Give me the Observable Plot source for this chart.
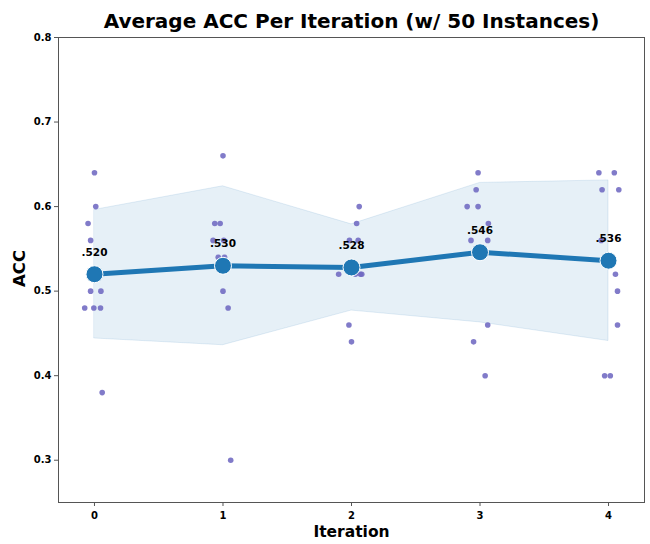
<!DOCTYPE html>
<html>
<head>
<meta charset="utf-8">
<script src="https://cdn.jsdelivr.net/npm/d3@7"></script>
<script src="https://cdn.jsdelivr.net/npm/@observablehq/plot@0.6"></script>
<style>
  html, body { margin: 0; padding: 0; background: #fff; }
  svg { font-family: "DejaVu Sans", sans-serif; }
</style>
</head>
<body>
<div id="chart"></div>
<script>
const iterations = [0, 1, 2, 3, 4];
const meanAcc = [0.520, 0.530, 0.528, 0.546, 0.536];
const meanLabels = [".520", ".530", ".528", ".546", ".536"];
const ciLow = [0.444, 0.436, 0.477, 0.463, 0.441];
const ciHigh = [0.596, 0.624, 0.579, 0.628, 0.631];

// individual instances per iteration (values and horizontal jitter)
const pointIter = [
  0,0,0,0,0,0,0,0,0,0,
  1,1,1,1,1,1,1,1,1,1,
  2,2,2,2,2,2,2,2,2,2,
  3,3,3,3,3,3,3,3,3,3,
  4,4,4,4,4,4,4,4,4,4
];
const pointAcc = [
  0.64,0.60,0.58,0.56,0.50,0.50,0.48,0.48,0.48,0.38,
  0.66,0.58,0.58,0.56,0.56,0.54,0.54,0.50,0.48,0.30,
  0.60,0.58,0.56,0.56,0.52,0.52,0.52,0.52,0.46,0.44,
  0.64,0.62,0.60,0.60,0.58,0.56,0.56,0.46,0.44,0.40,
  0.64,0.64,0.62,0.62,0.56,0.52,0.50,0.46,0.40,0.40
];
const pointJitter = [
  0.00,0.01,-0.05,-0.03,-0.03,0.05,-0.076,-0.005,0.047,0.06,
  0.00,-0.064,-0.022,-0.077,0.006,-0.037,0.012,0.00,0.04,0.06,
  0.06,0.04,-0.016,0.052,-0.10,0.03,0.07,0.08,-0.02,0.00,
  -0.015,-0.03,-0.10,-0.015,0.065,-0.07,0.06,0.06,-0.05,0.04,
  -0.075,0.045,-0.05,0.08,-0.057,0.054,0.07,0.07,-0.03,0.014
];

const yTicks = [0.3, 0.4, 0.5, 0.6, 0.7, 0.8];
const xTicks = [0, 1, 2, 3, 4];

const means = iterations.map((it, i) => ({it, acc: meanAcc[i], label: meanLabels[i], lo: ciLow[i], hi: ciHigh[i]}));
const points = pointIter.map((it, i) => ({x: it + pointJitter[i], acc: pointAcc[i]}));

const chart = Plot.plot({
  width: 650,
  height: 544,
  marginLeft: 58,
  marginRight: 6,
  marginTop: 37,
  marginBottom: 42,
  style: {fontFamily: "DejaVu Sans, sans-serif", background: "#fff"},
  x: {domain: [-0.28, 4.28], ticks: xTicks, tickFormat: d3.format("d"), label: null},
  y: {domain: [0.25, 0.8], ticks: yTicks, tickFormat: d3.format(".1f"), label: null},
  marks: [
    Plot.areaY(means, {x: "it", y1: "lo", y2: "hi", fill: "#1f77b4", fillOpacity: 0.11, stroke: "#1f77b4", strokeOpacity: 0.12, strokeWidth: 1}),
    Plot.dot(points, {x: "x", y: "acc", r: 2.8, fill: "#7069c2", fillOpacity: 0.88, stroke: "none"}),
    Plot.line(means, {x: "it", y: "acc", stroke: "#1f77b4", strokeWidth: 5}),
    Plot.dot(means, {x: "it", y: "acc", r: 8.5, fill: "#1f77b4", stroke: "#fff", strokeWidth: 1}),
    Plot.text(means, {x: "it", y: "acc", text: "label", dy: -22, fontSize: 10.5, fontWeight: "bold", fill: "#000"}),
    Plot.frame({stroke: "#555", strokeWidth: 1}),
    Plot.axisX({ticks: xTicks, tickFormat: d3.format("d"), tickSize: 4, tickPadding: 5, fontSize: 10, fontWeight: "bold", color: "#000", stroke: "#555", label: null}),
    Plot.axisY({ticks: yTicks, tickFormat: d3.format(".1f"), tickSize: 4, tickPadding: 3, fontSize: 10, fontWeight: "bold", color: "#000", stroke: "#555", label: null}),
    Plot.text(["Average ACC Per Iteration (w/ 50 Instances)"], {frameAnchor: "top", dy: -24, fontSize: 20, fontWeight: "bold", fill: "#000"}),
    Plot.text(["Iteration"], {frameAnchor: "bottom", dy: 34, fontSize: 15.5, fontWeight: "bold", fill: "#000"}),
    Plot.text(["ACC"], {frameAnchor: "left", dx: -39, dy: 17, rotate: -90, fontSize: 16.5, fontWeight: "bold", fill: "#000"})
  ]
});
document.getElementById("chart").appendChild(chart);
</script>
</body>
</html>
